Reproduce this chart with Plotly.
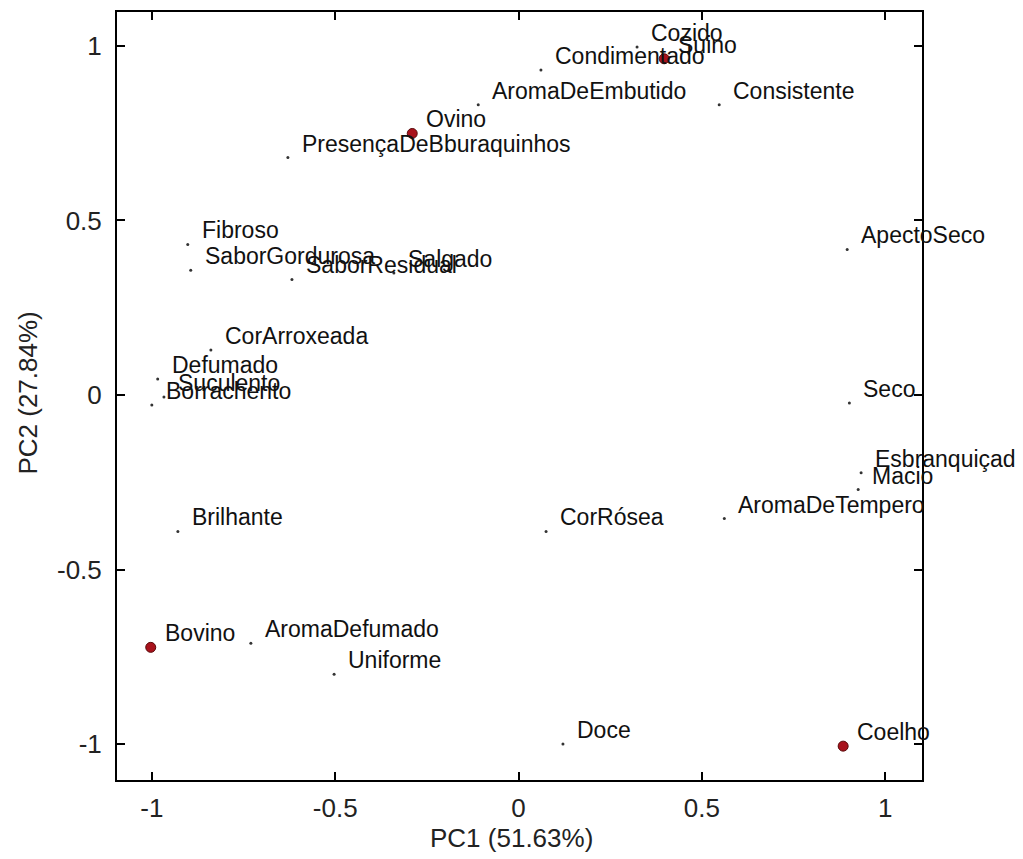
import plotly.graph_objects as go

# Variables (loadings)
var_names = ["PresençaDeBburaquinhos", "AromaDeEmbutido", "Condimentado", "Cozido",
             "Consistente", "ApectoSeco", "Fibroso", "SaborGordurosa", "SaborResidual",
             "Salgado", "CorArroxeada", "Defumado", "Suculento", "Borrachento",
             "Brilhante", "CorRósea", "AromaDeTempero", "Seco", "Esbranquiçad", "Macio",
             "AromaDefumado", "Uniforme", "Doce"]
var_pc1 = [-0.629, -0.110, 0.061, 0.323, 0.547, 0.896, -0.902, -0.894, -0.618,
           -0.340, -0.839, -0.984, -0.967, -1.000, -0.929, 0.075, 0.561, 0.902,
           0.934, 0.926, -0.730, -0.503, 0.121]
var_pc2 = [0.680, 0.831, 0.931, 0.997, 0.831, 0.417, 0.431, 0.357, 0.331,
           0.349, 0.129, 0.046, -0.006, -0.029, -0.391, -0.391, -0.354, -0.023,
           -0.223, -0.271, -0.711, -0.800, -1.000]

# Samples (scores)
sample_names = ["Suino", "Ovino", "Bovino", "Coelho"]
sample_pc1 = [0.397, -0.290, -1.003, 0.885]
sample_pc2 = [0.963, 0.749, -0.723, -1.006]

tick_vals = [-1, -0.5, 0, 0.5, 1]
tick_text = ["-1", "-0.5", "0", "0.5", "1"]

x_title = "PC1 (51.63%)"
y_title = "PC2 (27.84%)"

FONT = "Arial, Liberation Sans, sans-serif"

fig = go.Figure()
fig.add_trace(go.Scatter(
    x=var_pc1, y=var_pc2, mode="markers",
    marker=dict(size=3, color="#333333"),
    hoverinfo="text", text=var_names, showlegend=False, cliponaxis=False))
fig.add_trace(go.Scatter(
    x=sample_pc1, y=sample_pc2, mode="markers",
    marker=dict(size=10, color="#a8121c", line=dict(color="#5a0a0a", width=1)),
    hoverinfo="text", text=sample_names, showlegend=False, cliponaxis=False))

annotations = []
for n, x, y in list(zip(var_names, var_pc1, var_pc2)) + list(zip(sample_names, sample_pc1, sample_pc2)):
    annotations.append(dict(x=x, y=y, xref="x", yref="y", text=n, showarrow=False,
                            xanchor="left", yanchor="middle", xshift=12, yshift=14,
                            font=dict(family=FONT, size=23, color="#111111")))

annotations.append(dict(x=0.49, y=-0.075, xref="paper", yref="paper", text=x_title,
                        showarrow=False, xanchor="center", yanchor="middle",
                        font=dict(family=FONT, size=26, color="#222222")))
annotations.append(dict(x=-0.111, y=0.504, xref="paper", yref="paper", text=y_title,
                        showarrow=False, xanchor="center", yanchor="middle", textangle=-90,
                        font=dict(family=FONT, size=26, color="#222222")))

axis_common = dict(
    tickvals=tick_vals, ticktext=tick_text, ticks="inside", ticklen=8, tickwidth=2,
    tickcolor="black", showline=True, linecolor="black", linewidth=2, mirror="ticks",
    showgrid=False, zeroline=False,
    tickfont=dict(family=FONT, size=26, color="#222222"))

fig.update_layout(
    width=1023, height=859, autosize=False,
    margin=dict(l=117, r=101, t=10, b=79),
    paper_bgcolor="white", plot_bgcolor="white",
    xaxis=dict(range=[-1.095, 1.1], ticklabelstandoff=4, **axis_common),
    yaxis=dict(range=[-1.103, 1.097], ticklabelstandoff=8, **axis_common),
    annotations=annotations,
)

fig.write_html("out.html")
